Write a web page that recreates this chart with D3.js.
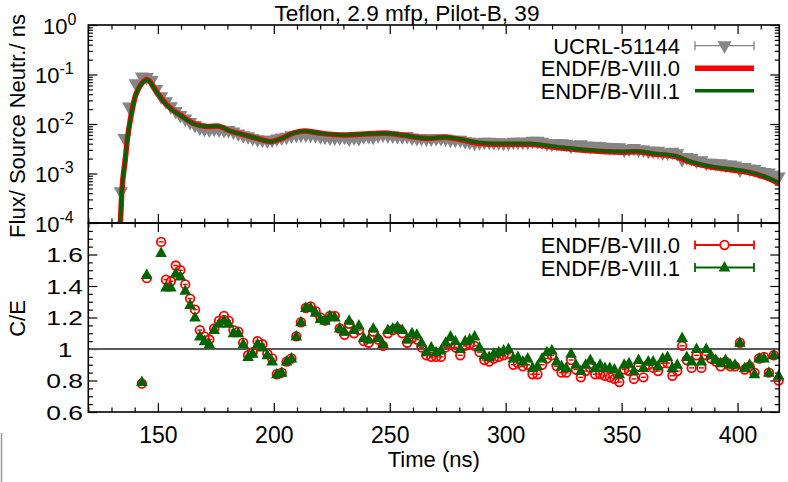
<!DOCTYPE html>
<html>
<head>
<meta charset="utf-8">
<script src="https://cdn.jsdelivr.net/npm/d3@7"></script>
<style>
  body { margin: 0; background: #fff; }
  svg text { font-family: "Liberation Sans", Arial, Helvetica, sans-serif; fill: #000; }
</style>
</head>
<body>
<svg id="chart" width="788" height="482"></svg>
<script>
// ---- data -------------------------------------------------------------
const title = "Teflon, 2.9 mfp, Pilot-B, 39";
const seriesNames = ["UCRL-51144", "ENDF/B-VIII.0", "ENDF/B-VIII.1"];
const xLabel = "Time (ns)";
const fluxLabel = "Flux/ Source Neutr./ ns";
const ratioLabel = "C/E";

// time bins (ns) of the C/E comparison
const ratioTime = [
  143.1,145.2,147.3,149.3,151.4,153.5,155.6,157.7,159.7,161.8,
  163.9,166.0,168.1,170.1,172.2,174.3,176.4,178.5,180.5,182.6,
  184.7,186.8,188.9,190.9,193.0,195.1,197.2,199.3,201.3,203.4,
  205.5,207.6,209.7,211.7,213.8,215.9,218.0,220.1,222.1,224.2,
  226.3,228.4,230.5,232.5,234.6,236.7,238.8,240.9,242.9,245.0,
  247.1,249.2,251.3,253.3,255.4,257.5,259.6,261.7,263.7,265.8,
  267.9,270.0,272.1,274.1,276.2,278.3,280.4,282.5,284.5,286.6,
  288.7,290.8,292.9,294.9,297.0,299.1,301.2,303.3,305.3,307.4,
  309.5,311.6,313.7,315.7,317.8,319.9,322.0,324.1,326.1,328.2,
  330.3,332.4,334.5,336.5,338.6,340.7,342.8,344.9,346.9,349.0,
  351.1,353.2,355.3,357.3,359.4,361.5,363.6,365.7,367.7,369.8,
  371.9,374.0,376.1,378.1,380.2,382.3,384.4,386.5,388.5,390.6,
  392.7,394.8,396.9,398.9,401.0,403.1,405.2,407.3,409.3,411.4,
  413.5,415.6,417.7
];
const ratio80 = [
  0.78,1.45,null,null,1.68,1.44,1.43,1.53,1.50,1.41,
  1.32,1.25,1.12,1.08,1.06,1.13,1.18,1.21,1.18,1.12,
  1.11,1.04,0.96,0.98,1.05,1.03,0.97,0.94,0.84,0.85,
  0.92,0.94,1.08,1.17,1.26,1.27,1.24,1.20,1.18,1.21,
  1.21,1.13,1.09,1.16,1.10,1.12,1.05,1.04,1.11,1.06,
  1.02,1.10,1.12,1.13,1.10,1.04,1.07,1.06,1.01,0.96,
  0.95,0.95,0.95,1.01,1.03,1.01,0.96,1.02,1.03,1.02,
  0.98,0.93,0.92,0.94,0.95,0.96,0.97,0.90,0.91,0.89,
  0.90,0.84,0.84,0.90,0.94,0.96,0.89,0.85,0.85,0.93,
  0.87,0.82,0.86,0.88,0.84,0.84,0.83,0.82,0.81,0.79,
  0.87,0.86,0.81,0.89,0.82,0.90,0.88,0.86,0.91,0.91,
  0.83,0.86,1.02,0.93,0.88,0.96,0.88,0.96,0.94,0.92,
  0.89,0.92,0.89,0.89,1.04,0.87,0.89,0.85,0.94,0.95,
  0.85,0.96,0.80
];
const ratio81 = [
  0.79,1.47,null,null,1.61,1.39,1.39,1.48,1.46,1.37,
  1.28,1.20,1.08,1.05,1.03,1.12,1.16,1.18,1.16,1.10,
  1.10,1.03,0.95,0.97,1.03,1.01,0.96,0.92,0.84,0.85,
  0.92,0.94,1.08,1.17,1.26,1.26,1.23,1.19,1.18,1.21,
  1.20,1.13,1.11,1.18,1.12,1.15,1.07,1.06,1.13,1.07,
  1.03,1.12,1.13,1.14,1.12,1.06,1.10,1.09,1.04,0.98,
  1.01,0.98,0.99,1.04,1.08,1.05,1.00,1.05,1.06,1.08,
  1.01,0.96,0.95,0.97,0.98,0.99,1.00,0.94,0.95,0.92,
  0.94,0.88,0.89,0.94,0.98,0.99,0.92,0.89,0.88,0.97,
  0.90,0.86,0.90,0.93,0.88,0.90,0.88,0.88,0.87,0.84,
  0.90,0.91,0.86,0.93,0.88,0.92,0.92,0.89,0.94,0.95,
  0.88,0.90,1.07,0.95,0.92,1.00,0.92,1.00,0.96,0.93,
  0.91,0.93,0.90,0.90,1.04,0.88,0.90,0.84,0.94,0.94,
  0.85,0.96,0.83
];

// measured flux: four early bins on the rising edge, then the C/E bins
const expTime = [134.0, 135.6, 137.6, 140.4].concat(ratioTime);
const expFlux = [
  4.3e-4,0.0051,0.022,0.065,
  0.089,0.087,0.076,0.050,0.0355,0.0282,0.0224,0.0178,0.0148,0.0126,
  0.0107,0.0093,0.0083,0.0078,0.0076,0.0078,0.0076,0.0074,0.0074,0.0069,
  0.0063,0.0058,0.0055,0.0051,0.0048,0.0047,0.0046,0.0047,0.0050,0.0052,
  0.0054,0.0058,0.0059,0.0060,0.0060,0.0059,0.0058,0.0055,0.0054,0.0052,
  0.0052,0.0052,0.0054,0.0050,0.0052,0.0051,0.0055,0.0056,0.0054,0.0058,
  0.0060,0.0058,0.0057,0.0056,0.0055,0.0056,0.0052,0.0051,0.0051,0.0050,
  0.0050,0.0051,0.0051,0.0050,0.0047,0.0047,0.0047,0.0044,0.0043,0.0041,
  0.0042,0.0043,0.0043,0.0042,0.0042,0.0041,0.0041,0.0043,0.0043,0.0043,
  0.0043,0.0045,0.0045,0.0043,0.0040,0.0039,0.0040,0.0040,0.0039,0.00355,
  0.0037,0.0038,0.0036,0.00347,0.00355,0.00347,0.0034,0.0033,0.0033,0.0033,
  0.0030,0.0031,0.0032,0.0030,0.0030,0.0028,0.0028,0.0028,0.0026,0.0026,
  0.0027,0.0025,0.0019,0.0021,0.0020,0.00178,0.0018,0.00162,0.00162,0.00158,
  0.00158,0.00148,0.00148,0.00141,0.00117,0.00132,0.00123,0.0012,0.0011,0.00105,
  0.00102,0.00093,0.00085
];

// calculated flux
const calcTime = [
  133.2,133.8,134.5,135.9,137.0,138.1,139.2,140.2,141.5,143.1,
  144.3,145.3,146.5,148.1,151.0,154.0,156.5,159.7,162.5,165.5,
  168.5,171.3,175.6,178.0,179.9,185.7,192.9,198.7,203.0,208.7,
  213.1,220.3,230.4,237.6,247.7,255.0,266.5,273.7,280.9,288.1,
  295.3,309.8,321.3,335.8,350.2,356.0,364.6,373.3,379.0,387.7,
  396.4,405.0,412.2,418.0
];
const calc80 = [
  5.0e-5,1.0e-4,4.5e-4,1.86e-3,5.6e-3,0.0120,0.0224,0.0355,0.0501,0.0661,
  0.0759,0.0794,0.0724,0.0562,0.0355,0.0240,0.0191,0.0151,0.0123,0.0102,
  0.0093,0.0089,0.0091,0.0085,0.0076,0.0063,0.0051,0.0044,0.0050,0.0066,
  0.0072,0.0065,0.0060,0.0062,0.0065,0.0060,0.0051,0.0054,0.0048,0.0041,
  0.0039,0.0039,0.0034,0.0029,0.0027,0.00275,0.00245,0.0022,0.00174,0.00138,
  0.00120,0.00105,0.00083,0.00063
];
const calc81 = [
  5.0e-5,1.0e-4,4.5e-4,1.86e-3,5.6e-3,0.0120,0.0224,0.0355,0.0501,0.0661,
  0.0744,0.0778,0.0710,0.0551,0.0348,0.0235,0.0187,0.0148,0.0121,0.0100,
  0.0091,0.0089,0.0091,0.0085,0.0076,0.0063,0.0051,0.0044,0.0050,0.0066,
  0.0072,0.0065,0.0060,0.0062,0.0065,0.0060,0.0051,0.0054,0.00494,0.00422,
  0.00402,0.00402,0.00350,0.00299,0.00278,0.00283,0.00252,0.00227,0.00179,0.00142,
  0.00124,0.00108,0.00085,0.00065
];

const xTicks = [150, 200, 250, 300, 350, 400];
const fluxTicks = [1e-4, 1e-3, 1e-2, 1e-1, 1];
const ratioTicks = [0.6, 0.8, 1, 1.2, 1.4, 1.6];

// ---- layout ------------------------------------------------------------
const svg = d3.select("#chart");
const FONT = 22;
const left = 88.3, right = 779.3;
const topY0 = 25, topY1 = 223, botY0 = 223, botY1 = 412;
const binHalf = 1.04;

const colors = { exp: "#858585", v80: "#ff0000", v81: "#006400", unity: "#5a5a5a" };

const x = d3.scaleLinear().domain([120, 418]).range([left, right]);
const yF = d3.scaleLog().domain([1e-4, 1]).range([topY1, topY0]);
const yR = d3.scaleLinear().domain([0.6, 1.8]).range([botY1, botY0]);

const xMinor = d3.range(120, 419, 10).filter(v => v % 50 !== 0);
const fluxMinor = [];
for (let e = -4; e < 0; e++) for (let m = 2; m <= 9; m++) fluxMinor.push(m * Math.pow(10, e));
const ratioMinor = d3.range(0, 25).map(i => +(0.6 + i * 0.05).toFixed(2)).filter(v => !ratioTicks.includes(v) && v !== 1.8);

svg.append("rect").attr("width", 788).attr("height", 482).attr("fill", "#fff");

const defs = svg.append("defs");
defs.append("clipPath").attr("id", "clipTop")
  .append("rect").attr("x", left).attr("y", topY0).attr("width", right - left).attr("height", topY1 - topY0);

// tick helper: draws inward ticks with a d3 axis, no domain line
function tickRow(axis, tx, ty) {
  const g = svg.append("g").attr("transform", `translate(${tx},${ty})`).call(axis);
  g.select(".domain").remove();
  g.selectAll(".tick line").attr("stroke", "#000").attr("stroke-width", 1.2);
  g.selectAll("text").remove();
  return g;
}
const MAJ = 9, MIN = 4.5;
function xTickSet(ty, down) {
  const make = down ? d3.axisBottom : d3.axisTop;
  tickRow(make(x).tickValues(xTicks).tickSize(MAJ), 0, ty);
  tickRow(make(x).tickValues(xMinor).tickSize(MIN), 0, ty);
}
xTickSet(topY0, true); xTickSet(topY1, false);
xTickSet(botY0, true); xTickSet(botY1, false);

tickRow(d3.axisRight(yF).tickValues(fluxTicks).tickSize(MAJ), left, 0);
tickRow(d3.axisRight(yF).tickValues(fluxMinor).tickSize(MIN), left, 0);
tickRow(d3.axisLeft(yF).tickValues(fluxTicks).tickSize(MAJ), right, 0);
tickRow(d3.axisLeft(yF).tickValues(fluxMinor).tickSize(MIN), right, 0);

tickRow(d3.axisRight(yR).tickValues(ratioTicks).tickSize(MAJ), left, 0);
tickRow(d3.axisRight(yR).tickValues(ratioMinor).tickSize(MIN), left, 0);
tickRow(d3.axisLeft(yR).tickValues(ratioTicks).tickSize(MAJ), right, 0);
tickRow(d3.axisLeft(yR).tickValues(ratioMinor).tickSize(MIN), right, 0);

// ---- top panel: flux ---------------------------------------------------
const expPts = expTime.map((t, i) => ({ t, v: expFlux[i] }));
const tri = (cx, cy, down, hw, hUp, hDn) => down
  ? `M${cx - hw},${cy - hUp}L${cx + hw},${cy - hUp}L${cx},${cy + hDn}Z`
  : `M${cx},${cy - hUp}L${cx + hw},${cy + hDn}L${cx - hw},${cy + hDn}Z`;

svg.append("g").selectAll("path").data(expPts).join("path")
  .attr("d", d => tri(x(d.t), yF(d.v), true, 7, 4.5, 8))
  .attr("fill", colors.exp);

const lineF = (vals) => d3.line()
  .x((d, i) => x(calcTime[i]))
  .y(d => yF(d))
  .curve(d3.curveMonotoneX)(vals);

const topLines = svg.append("g").attr("clip-path", "url(#clipTop)");
topLines.append("path").attr("d", lineF(calc80)).attr("fill", "none")
  .attr("stroke", colors.v80).attr("stroke-width", 5.5).attr("stroke-linejoin", "round");
topLines.append("path").attr("d", lineF(calc81)).attr("fill", "none")
  .attr("stroke", colors.v81).attr("stroke-width", 3.5).attr("stroke-linejoin", "round");

// ---- bottom panel: C/E -------------------------------------------------
svg.append("line").attr("x1", left).attr("x2", right)
  .attr("y1", yR(1)).attr("y2", yR(1))
  .attr("stroke", colors.unity).attr("stroke-width", 2);

const r80 = ratioTime.map((t, i) => ({ t, v: ratio80[i] })).filter(d => d.v != null);
const r81 = ratioTime.map((t, i) => ({ t, v: ratio81[i] })).filter(d => d.v != null);

const gc = svg.append("g");
gc.selectAll("line").data(r80).join("line")
  .attr("x1", d => x(d.t - binHalf)).attr("x2", d => x(d.t + binHalf))
  .attr("y1", d => yR(d.v)).attr("y2", d => yR(d.v))
  .attr("stroke", colors.v80).attr("stroke-width", 1.5);
gc.selectAll("circle").data(r80).join("circle")
  .attr("cx", d => x(d.t)).attr("cy", d => yR(d.v)).attr("r", 4.3)
  .attr("fill", "none").attr("stroke", colors.v80).attr("stroke-width", 1.8);

svg.append("g").selectAll("path").data(r81).join("path")
  .attr("d", d => tri(x(d.t), yR(d.v), false, 5.8, 6.5, 4))
  .attr("fill", colors.v81);

// ---- frames ------------------------------------------------------------
[[topY0, topY1], [botY0, botY1]].forEach(([a, b]) => {
  svg.append("rect").attr("x", left).attr("y", a).attr("width", right - left).attr("height", b - a)
    .attr("fill", "none").attr("stroke", "#000").attr("stroke-width", 1.6);
});

// ---- tick labels -------------------------------------------------------
const xl = svg.append("g").attr("transform", `translate(0,${botY1})`)
  .call(d3.axisBottom(x).tickValues(xTicks).tickSize(0).tickFormat(d3.format("d")));
xl.select(".domain").remove();
xl.attr("font-size", 23).attr("font-family", null);
xl.selectAll("text").attr("y", 31).attr("dy", null).attr("fill", "#000");

// C/E labels: slightly condensed height, wide set
const yl = svg.append("g").attr("transform", "translate(83,0)")
  .call(d3.axisLeft(yR).tickValues(ratioTicks).tickSize(0).tickPadding(0).tickFormat(d3.format("~g")));
yl.select(".domain").remove();
yl.attr("font-size", 20).attr("font-family", null);
yl.selectAll("text").attr("dy", "0.36em").attr("fill", "#000")
  .attr("transform", "scale(1.32,1)")
  .attr("x", d => d === 1 ? -8 : 0);

const fl = svg.append("g").attr("transform", "translate(0,0)")
  .call(d3.axisLeft(yF).tickValues(fluxTicks).tickSize(0).tickFormat(""));
fl.select(".domain").remove();
fl.attr("font-size", FONT).attr("font-family", null);
fl.selectAll(".tick text").each(function (d) {
  const e = Math.round(Math.log10(d));
  const t = d3.select(this).attr("text-anchor", "start").attr("x", e === 0 ? 43 : 35)
    .attr("dy", null).attr("y", 8).attr("fill", "#000");
  t.text(null);
  t.append("tspan").text("10");
  t.append("tspan").attr("font-size", 16).attr("dy", -9).text(String(e));
});

// ---- titles ------------------------------------------------------------
svg.append("text").attr("x", 407).attr("y", 21).attr("text-anchor", "middle")
  .attr("font-size", 22.6).text(title);
svg.append("text").attr("x", (left + right) / 2).attr("y", 467).attr("text-anchor", "middle")
  .attr("font-size", FONT).text(xLabel);
svg.append("text").attr("transform", `translate(25,${(topY0 + topY1) / 2 + 2}) rotate(-90)`)
  .attr("text-anchor", "middle").attr("font-size", FONT).text(fluxLabel);
svg.append("text").attr("transform", `translate(25,${(botY0 + botY1) / 2 + 1}) rotate(-90)`)
  .attr("text-anchor", "middle").attr("font-size", FONT).text(ratioLabel);

// ---- legends -----------------------------------------------------------
const legX0 = 695, legX1 = 754, legXm = 724.5, legTextX = 680;
function legendRow(y, label) {
  svg.append("text").attr("x", legTextX).attr("y", y + 8).attr("text-anchor", "end")
    .attr("font-size", FONT).text(label);
}
function barSample(y, color, w) {
  svg.append("line").attr("x1", legX0).attr("x2", legX1).attr("y1", y).attr("y2", y)
    .attr("stroke", color).attr("stroke-width", w);
  [legX0, legX1].forEach(cx => svg.append("line").attr("x1", cx).attr("x2", cx)
    .attr("y1", y - 4.5).attr("y2", y + 4.5).attr("stroke", color).attr("stroke-width", w));
}
const topRows = [45.7, 68.2, 90.7];
legendRow(topRows[0], seriesNames[0]);
barSample(topRows[0], colors.exp, 1.3);
svg.append("path").attr("d", tri(legXm, topRows[0], true, 7, 4.5, 8)).attr("fill", colors.exp);
legendRow(topRows[1], seriesNames[1]);
svg.append("line").attr("x1", legX0).attr("x2", legX1).attr("y1", topRows[1]).attr("y2", topRows[1])
  .attr("stroke", colors.v80).attr("stroke-width", 5.5);
legendRow(topRows[2], seriesNames[2]);
svg.append("line").attr("x1", legX0).attr("x2", legX1).attr("y1", topRows[2]).attr("y2", topRows[2])
  .attr("stroke", colors.v81).attr("stroke-width", 3.5);

const botRows = [245, 267.5];
legendRow(botRows[0], seriesNames[1]);
barSample(botRows[0], colors.v80, 1.8);
svg.append("circle").attr("cx", legXm).attr("cy", botRows[0]).attr("r", 4.3)
  .attr("fill", "#fff").attr("stroke", colors.v80).attr("stroke-width", 1.8);
legendRow(botRows[1], seriesNames[2]);
barSample(botRows[1], colors.v81, 1.8);
svg.append("path").attr("d", tri(legXm, botRows[1], false, 5.8, 6.5, 4)).attr("fill", colors.v81);

// thin rule at the lower left edge
svg.append("line").attr("x1", 1.5).attr("x2", 1.5).attr("y1", 433).attr("y2", 482)
  .attr("stroke", "#9a9a9a").attr("stroke-width", 1.5);
</script>
</body>
</html>
